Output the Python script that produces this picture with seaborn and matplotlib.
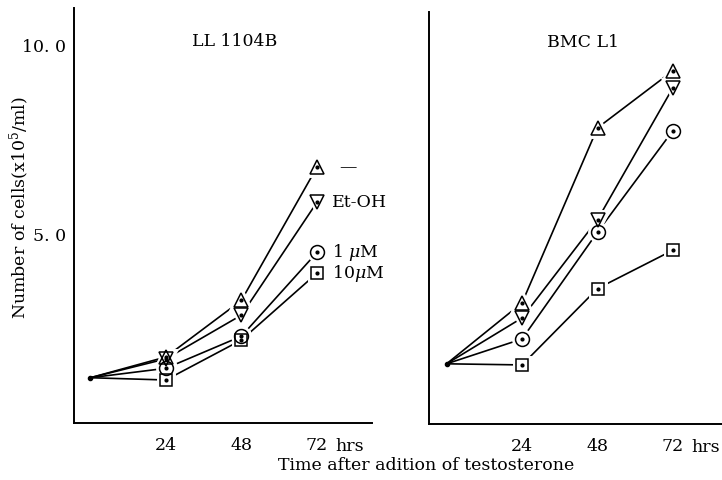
import pandas as pd
import seaborn as sns
import matplotlib.pyplot as plt

sns.set_theme(style="white")
plt.rcParams['font.family'] = ['DejaVu Serif']
plt.rcParams['mathtext.fontset'] = 'dejavuserif'
plt.rcParams['text.color'] = 'black'
plt.rcParams['xtick.color'] = 'black'
plt.rcParams['ytick.color'] = 'black'

hours = [0, 24, 48, 72]
series = ['—', 'Et-OH', '1 $\\mu$M', '10$\\mu$M']
markers = ['^', 'v', 'o', 's']
msizes = [10.5, 10.5, 10, 8.5]
label_dx = [16, 11, 11, 11]

# LL 1104B
ll_none = [1.2, 1.75, 3.25, 6.78]
ll_etoh = [1.2, 1.70, 2.86, 5.85]
ll_1um = [1.2, 1.45, 2.30, 4.52]
ll_10um = [1.2, 1.14, 2.20, 3.97]

# BMC L1
bmc_none = [1.6, 3.22, 7.87, 9.39]
bmc_etoh = [1.6, 2.82, 5.43, 8.94]
bmc_1um = [1.6, 2.26, 5.10, 7.80]
bmc_10um = [1.6, 1.57, 3.60, 4.62]

FS = 12.5


def make_df(vals):
    rows = []
    for name, v in zip(series, vals):
        for h, y in zip(hours, v):
            rows.append({'hours': h, 'cells': y, 'treatment': name})
    return pd.DataFrame(rows)


def draw_panel(ax, vals, title, title_pos, ylim_top, xlim, labels=False):
    df = make_df(vals)
    sns.lineplot(data=df, x='hours', y='cells', hue='treatment',
                 palette=['black'] * 4, legend=False, ax=ax, lw=1.2)
    # white halos so lines stop short of the symbols
    for v, m, ms in zip(vals, markers, msizes):
        ax.plot(hours[1:], v[1:], ls='none', marker=m, ms=ms, mfc='white',
                mec='white', mew=5, zorder=3)
    for v, m, ms in zip(vals, markers, msizes):
        ax.plot(hours[1:], v[1:], ls='none', marker=m, ms=ms, mfc='none',
                mec='black', mew=1.1, zorder=4)
        ax.plot(hours[1:], v[1:], ls='none', marker='o', ms=2, color='black',
                zorder=5)
    ax.plot([0], [vals[0][0]], ls='none', marker='o', ms=3, color='black',
            zorder=5)
    if labels:
        for name, v, dx in zip(series, vals, label_dx):
            ax.annotate(name, xy=(72, v[-1]), xytext=(dx, 0),
                        textcoords='offset points', va='center', ha='left',
                        fontsize=FS)
    ax.set_xlim(*xlim)
    ax.set_ylim(0, ylim_top)
    ax.set_xticks([24, 48, 72])
    ax.set_xticklabels(['24', '48', '72'], fontsize=FS)
    ax.annotate('hrs', xy=(72, 0), xycoords=('data', 'axes fraction'),
                xytext=(13, -10.5), textcoords='offset points', va='top',
                ha='left', fontsize=FS)
    ax.set_yticks([5, 10])
    ax.set_xlabel('')
    ax.set_ylabel('')
    ax.tick_params(axis='x', direction='out', length=4, width=1, pad=6)
    ax.tick_params(axis='y', direction='out', length=4, width=1, pad=2)
    for s in ['top', 'right']:
        ax.spines[s].set_visible(False)
    for s in ['left', 'bottom']:
        ax.spines[s].set_color('black')
        ax.spines[s].set_linewidth(1.4)
    ax.text(title_pos[0], title_pos[1], title, transform=ax.transAxes,
            ha='center', va='center', fontsize=FS)


fig = plt.figure(figsize=(7.22, 4.8), dpi=100)
ax1 = fig.add_axes([74 / 722, 57 / 480, 298 / 722, 415 / 480])
ax2 = fig.add_axes([429 / 722, 56 / 480, 293 / 722, 412 / 480])

draw_panel(ax1, [ll_none, ll_etoh, ll_1um, ll_10um], 'LL 1104B',
           (0.54, 0.92), 11.0, (-5.2, 89.5), labels=True)
draw_panel(ax2, [bmc_none, bmc_etoh, bmc_1um, bmc_10um], 'BMC L1',
           (0.525, 0.925), 10.95, (-5.6, 87.6))

ax1.set_yticklabels(['5. 0', '10. 0'], fontsize=FS)
ax2.set_yticklabels([])

fig.text(20 / 722, 1 - 208 / 480, 'Number of cells(x10$^5$/ml)', rotation=90,
         ha='center', va='center', fontsize=FS)
fig.text(426 / 722, 1 - 465 / 480, 'Time after adition of testosterone',
         ha='center', va='center', fontsize=FS)

fig.savefig('out.png', dpi=100, facecolor='white')
